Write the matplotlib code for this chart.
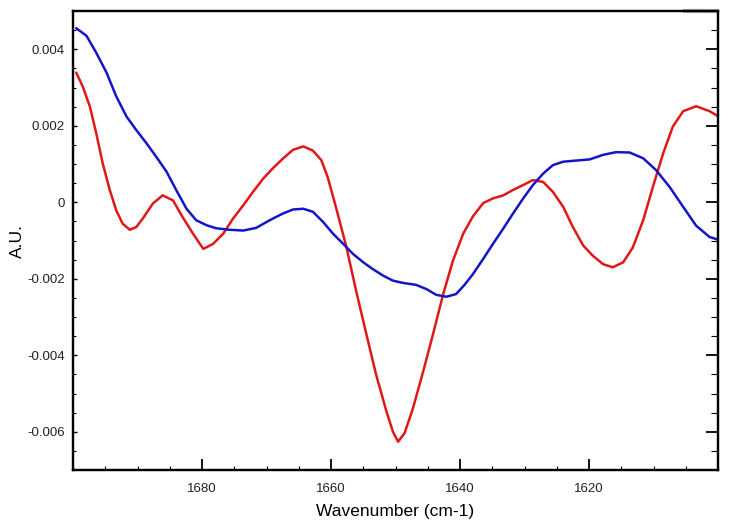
import matplotlib
matplotlib.use("Agg")
import matplotlib.pyplot as plt
from matplotlib.ticker import MultipleLocator, FuncFormatter

plt.rcParams['font.family'] = ['Liberation Sans', 'DejaVu Sans']

blue_x = [1699.5, 1697.9, 1696.4, 1694.8, 1693.3, 1691.7, 1690.2, 1688.6, 1687.1, 1685.5,
          1684.0, 1682.4, 1680.9, 1679.3, 1677.8, 1675.7, 1673.6, 1671.6, 1669.5, 1667.4,
          1665.9, 1664.3, 1662.8, 1661.2, 1659.7, 1658.1, 1656.6, 1655.0, 1653.5, 1651.9,
          1650.4, 1648.8, 1646.8, 1645.2, 1643.7, 1642.1, 1640.6, 1639.3, 1638.0, 1636.4,
          1634.9, 1633.3, 1631.8, 1630.2, 1628.7, 1627.1, 1625.6, 1624.0, 1622.0, 1619.9,
          1617.8, 1615.8, 1613.7, 1611.6, 1609.6, 1607.5, 1605.4, 1603.4, 1601.3, 1599.5]
blue_y = [0.00455, 0.00435, 0.00391, 0.00339, 0.00277, 0.00224, 0.00189, 0.00154, 0.00119, 0.00080,
          0.00032, -0.00017, -0.00047, -0.00060, -0.00068, -0.00072, -0.00074, -0.00067, -0.00047, -0.00029,
          -0.00019, -0.00017, -0.00025, -0.00052, -0.00082, -0.00109, -0.00135, -0.00157, -0.00175, -0.00192,
          -0.00205, -0.00211, -0.00216, -0.00227, -0.00242, -0.00247, -0.00240, -0.00216, -0.00188, -0.00148,
          -0.00109, -0.00069, -0.00030, 0.00010, 0.00045, 0.00075, 0.00097, 0.00106, 0.00109, 0.00112,
          0.00124, 0.00131, 0.00130, 0.00115, 0.00084, 0.00040, -0.00012, -0.00061, -0.00091, -0.00100]

red_x = [1699.5, 1698.5, 1697.4, 1696.4, 1695.4, 1694.3, 1693.3, 1692.3, 1691.2, 1690.2,
         1689.2, 1687.6, 1686.1, 1684.5, 1683.0, 1681.4, 1679.8, 1678.3, 1676.7, 1675.2,
         1673.6, 1672.1, 1670.5, 1669.0, 1667.4, 1665.9, 1664.3, 1662.8, 1661.5, 1660.5,
         1659.2, 1657.6, 1656.1, 1654.5, 1653.0, 1651.4, 1650.4, 1649.6, 1648.6, 1647.3,
         1645.7, 1644.2, 1642.6, 1641.1, 1639.5, 1638.0, 1636.4, 1634.9, 1633.3, 1631.8,
         1630.2, 1628.7, 1627.1, 1625.6, 1624.0, 1622.5, 1620.9, 1619.4, 1617.8, 1616.3,
         1614.7, 1613.2, 1611.6, 1610.1, 1608.5, 1607.0, 1605.4, 1603.4, 1601.3, 1599.5]
red_y = [0.00339, 0.00303, 0.00251, 0.00181, 0.00102, 0.00032, -0.00021, -0.00056, -0.00072, -0.00065,
         -0.00043, -0.00003, 0.00018, 0.00005, -0.00039, -0.00082, -0.00122, -0.00109, -0.00082, -0.00043,
         -0.00008, 0.00027, 0.00062, 0.00089, 0.00115, 0.00137, 0.00146, 0.00135, 0.00110, 0.00065,
         -0.00015, -0.00118, -0.00232, -0.00346, -0.00451, -0.00547, -0.00600, -0.00626, -0.00604, -0.00539,
         -0.00442, -0.00346, -0.00240, -0.00153, -0.00082, -0.00037, -0.00002, 0.00010, 0.00018, 0.00032,
         0.00045, 0.00058, 0.00053, 0.00027, -0.00012, -0.00065, -0.00113, -0.00140, -0.00162, -0.00170,
         -0.00157, -0.00118, -0.00047, 0.00040, 0.00128, 0.00198, 0.00238, 0.00251, 0.00238, 0.00220]

x_ticks = [1680, 1660, 1640, 1620]
y_ticks = [0.004, 0.002, 0.0, -0.002, -0.004, -0.006]

fig = plt.figure(figsize=(7.29, 5.30), dpi=100)
ax = fig.add_axes([73/729, 1 - 470/530, (718 - 73)/729, (470 - 11)/530])

ax.plot(red_x, red_y, color='#e01818', lw=1.8, solid_joinstyle='round', solid_capstyle='round')
ax.plot(blue_x, blue_y, color='#1515c8', lw=1.8, solid_joinstyle='round', solid_capstyle='round')

ax.set_xlim(1700, 1600)
ax.set_ylim(-0.007, 0.005)

ax.set_xticks(x_ticks)
ax.xaxis.set_minor_locator(MultipleLocator(5))
ax.set_yticks(y_ticks)
ax.yaxis.set_minor_locator(MultipleLocator(0.0005))
ax.yaxis.set_major_formatter(FuncFormatter(lambda v, p: '0' if abs(v) < 1e-12 else f'{v:.3f}'))

ax.tick_params(axis='x', which='major', direction='in', length=8, width=1.3, pad=9,
               labelsize=9.5, labelcolor='#222222', top=False)
ax.tick_params(axis='x', which='minor', direction='in', length=3, width=0.8, top=False)
ax.tick_params(axis='y', which='major', direction='in', length=3, width=1.0, pad=6,
               labelsize=9.5, labelcolor='#222222', right=False)
ax.tick_params(axis='y', which='minor', direction='in', length=2, width=0.8, right=False)

ax2 = ax.twinx()
ax2.set_ylim(-0.007, 0.005)
ax2.set_yticks(y_ticks)
ax2.yaxis.set_minor_locator(MultipleLocator(0.0005))
ax2.tick_params(axis='y', which='major', direction='in', length=9, width=1.3, labelright=False)
ax2.tick_params(axis='y', which='minor', direction='in', length=5, width=0.8)

for a in (ax, ax2):
    for s in a.spines.values():
        s.set_linewidth(1.6)
        s.set_color('black')

ax.plot([0.945, 1.0], [1.0, 1.0], transform=ax.transAxes, color='#9a9a9a', lw=3,
        clip_on=False, solid_capstyle='butt', zorder=5)

ax.set_xlabel('Wavenumber (cm-1)', fontsize=12.5, labelpad=7)
ax.set_ylabel('A.U.', fontsize=12.5)
ax.yaxis.set_label_coords(-0.074, 0.5)

fig.savefig('out.png', dpi=100)
